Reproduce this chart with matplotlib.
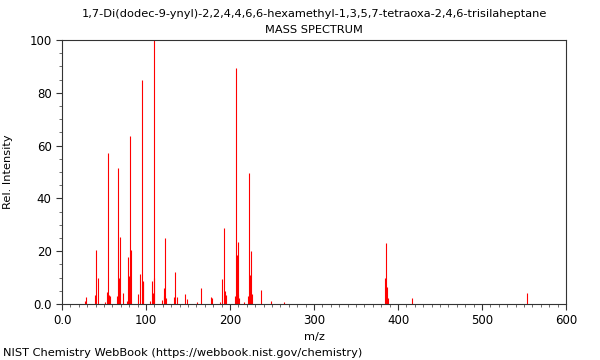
import matplotlib
matplotlib.use("Agg")
from matplotlib import pyplot as plt
from matplotlib.ticker import MultipleLocator, FuncFormatter

title = "1,7-Di(dodec-9-ynyl)-2,2,4,4,6,6-hexamethyl-1,3,5,7-tetraoxa-2,4,6-trisilaheptane"

# peaks: m/z and relative intensity
mz = [27, 29, 39, 41, 43, 51, 53, 55, 56, 57,
      65, 67, 68, 69, 73, 77, 79, 80, 81, 82,
      91, 93, 95, 96, 97, 105, 107, 108, 109, 110,
      119, 121, 122, 123, 124, 133, 135, 137, 147, 149,
      161, 165, 177, 179, 188, 191, 193, 194, 195,
      206, 207, 208, 209, 210, 211, 217, 221, 223, 224, 225, 226,
      237, 249, 264, 385, 386, 387, 388, 417, 553]
intensity = [1.1, 2.7, 3.4, 20.5, 9.8, 0.8, 4.5, 57.2, 3.4, 3.2,
             3.0, 51.5, 9.8, 25.5, 4.1, 1.0, 17.9, 10.5, 63.6, 20.4,
             3.9, 11.5, 84.8, 8.7, 8.3, 1.3, 8.7, 4.0, 100.0, 10.0,
             1.6, 6.2, 3.0, 25.0, 2.4, 2.5, 12.0, 2.5, 3.8, 1.9,
             0.8, 5.9, 2.7, 2.2, 0.8, 9.6, 28.7, 5.0, 3.4,
             3.0, 89.5, 18.6, 23.6, 3.9, 2.2, 0.8, 2.9, 49.7, 11.0, 20.0, 3.8,
             5.3, 1.3, 0.7, 9.8, 23.2, 6.6, 2.2, 2.1, 4.0]

x_major = 100
y_major = 20

fig = plt.figure(figsize=(6, 3.6), dpi=100)
ax = fig.add_axes([62 / 600, 56 / 360, 504 / 600, 264 / 360])

ax.vlines(mz, 0, intensity, colors="#ff0000", linewidth=0.8)

ax.set_xlim(0, 600)
ax.set_ylim(0, 100)
ax.xaxis.set_major_locator(MultipleLocator(x_major))
ax.xaxis.set_minor_locator(MultipleLocator(10))
ax.yaxis.set_major_locator(MultipleLocator(y_major))
ax.yaxis.set_minor_locator(MultipleLocator(5))
fmt = FuncFormatter(lambda v, _: "0.0" if v == 0 else f"{v:.0f}")
ax.xaxis.set_major_formatter(fmt)
ax.yaxis.set_major_formatter(fmt)
ax.tick_params(which="major", length=4, width=0.8, labelsize=8.5, color="#333333")
ax.tick_params(which="minor", length=2, width=0.6, color="#555555")
for s in ax.spines.values():
    s.set_linewidth(0.8)
    s.set_color("#333333")

ax.set_xlabel("m/z", fontsize=8.2, labelpad=3)
ax.set_ylabel("Rel. Intensity", fontsize=8.2, labelpad=12)

fig.text(314 / 600, 1 - 14 / 360, title, ha="center", va="center", fontsize=8.2)
fig.text(314 / 600, 1 - 30 / 360, "MASS SPECTRUM", ha="center", va="center", fontsize=8.2)
fig.text(3 / 600, 1 - 353 / 360, "NIST Chemistry WebBook (https://webbook.nist.gov/chemistry)",
         ha="left", va="center", fontsize=8.2)

fig.savefig("out.png", dpi=100)
